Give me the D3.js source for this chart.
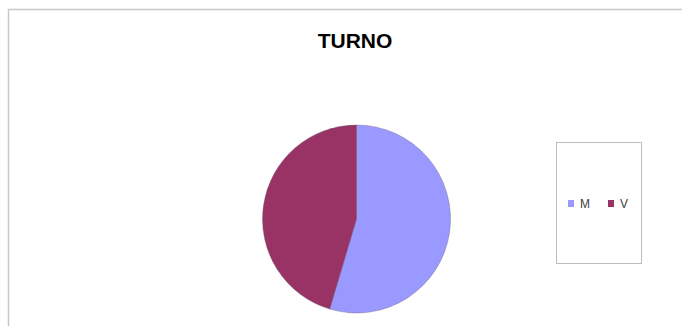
<!DOCTYPE html>
<html><head><meta charset="utf-8">
<script src="https://cdn.jsdelivr.net/npm/d3@7"></script>
<style>html,body{margin:0;padding:0;background:#fff;}svg{display:block;}</style>
</head><body>
<svg id="c" width="682" height="326"></svg>
<script>
const title = "TURNO";
const categories = ["M", "V"];
const values = [54.6, 45.4];
const colors = ["#9999FF", "#993366"];

const svg = d3.select("#c");
// chart frame
svg.append("rect").attr("x", 8.5).attr("y", 9.5).attr("width", 700).attr("height", 400)
  .attr("fill", "#fff").attr("stroke", "#c8c8c8").attr("stroke-width", 1.5);

svg.append("text").attr("x", 355).attr("y", 48).attr("text-anchor", "middle")
  .attr("font-family", "Liberation Sans, Arial, sans-serif").attr("font-weight", "bold")
  .attr("font-size", 21).attr("fill", "#000").text(title);

const data = categories.map((c, i) => ({cat: c, val: values[i], col: colors[i]}));
const pie = d3.pie().sort(null).value(d => d.val);
const r = 94;
const arc = d3.arc().innerRadius(0).outerRadius(r);
const g = svg.append("g").attr("transform", "translate(356.5,219)");
g.selectAll("path").data(pie(data)).join("path")
  .attr("d", arc).attr("fill", d => d.data.col)
  .attr("stroke", "#6a5a70").attr("stroke-width", 0.6).attr("stroke-opacity", 0.6);

// legend
svg.append("rect").attr("x", 556.5).attr("y", 142.5).attr("width", 85).attr("height", 121)
  .attr("fill", "#fff").attr("stroke", "#bdbdbd").attr("stroke-width", 1);
const lx = d3.scalePoint().domain(categories).range([568, 608]);
const lg = svg.selectAll("g.leg").data(data).join("g").attr("class", "leg")
  .attr("transform", d => `translate(${lx(d.cat)},200)`);
lg.append("rect").attr("width", 6).attr("height", 7).attr("fill", d => d.col);
lg.append("text").attr("x", 12).attr("y", 7.5)
  .attr("font-family", "Liberation Sans, Arial, sans-serif").attr("font-size", 12)
  .attr("fill", "#404040").text(d => d.cat);
</script>
</body></html>
